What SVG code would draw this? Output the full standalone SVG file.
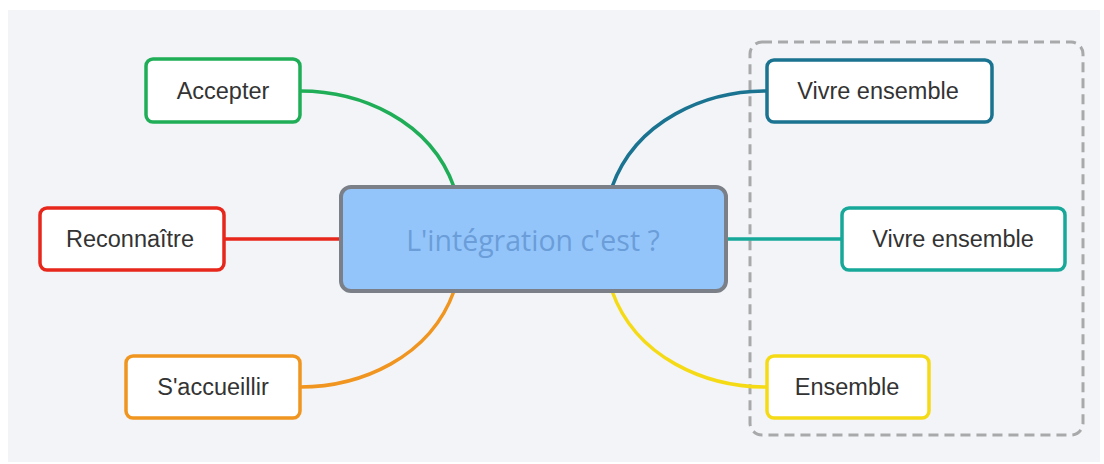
<svg xmlns="http://www.w3.org/2000/svg" width="1104" height="464" viewBox="0 0 1104 464">
<style>
.bg{fill:#f3f4f7}
.node rect{fill:#ffffff;stroke-width:3.5}
.node text{font-family:"Liberation Sans",Arial,sans-serif;font-size:23.5px;fill:#333333;text-anchor:middle;dominant-baseline:central}
.conn path,.conn line{fill:none;stroke-width:3.5;stroke-linecap:round}
.group{fill:none;stroke:#a8a9ab;stroke-width:3;stroke-dasharray:10 6}
</style>
<rect class="bg" x="8" y="10" width="1092" height="452"/>
<rect class="group" x="750" y="42" width="333" height="393" rx="12"/>
<g class="conn" id="connectors">
<path d="M300,91 C360,91 430,120 454,187" stroke="#1fae57"/>
<line x1="224" y1="239" x2="341" y2="239" stroke="#e8271c"/>
<path d="M300,387 C360,387 430,358 454,291" stroke="#f0951f"/>
<path d="M766,91 C706,91 636,120 612,187" stroke="#1a7390"/>
<line x1="726" y1="239" x2="841" y2="239" stroke="#17a89a"/>
<path d="M766,387 C706,387 636,358 612,291" stroke="#f5da16"/>
</g>
<g id="central">
<rect x="341" y="187" width="385" height="104" rx="10" fill="#93c5fb" stroke="#7b8088" stroke-width="4"/>
<text x="533" y="240" font-family="'Open Sans',sans-serif" font-size="28.5" fill="#6b9dd8" text-anchor="middle" dominant-baseline="central">L'intégration c'est ?</text>
</g>
<g class="node" id="accepter">
<rect x="146" y="59" width="154" height="63" rx="7" stroke="#1fae57"/>
<text x="223" y="91">Accepter</text>
</g>
<g class="node" id="reconnaitre">
<rect x="40" y="208" width="184" height="62" rx="7" stroke="#e8271c"/>
<text x="130" y="239">Reconnaître</text>
</g>
<g class="node" id="saccueillir">
<rect x="126" y="356" width="174" height="62" rx="7" stroke="#f0951f"/>
<text x="213" y="387">S'accueillir</text>
</g>
<g class="node" id="vivre1">
<rect x="767" y="60" width="225" height="62" rx="7" stroke="#1a7390"/>
<text x="878" y="91">Vivre ensemble</text>
</g>
<g class="node" id="vivre2">
<rect x="842" y="208" width="223" height="62" rx="7" stroke="#17a89a"/>
<text x="953" y="239">Vivre ensemble</text>
</g>
<g class="node" id="ensemble">
<rect x="767" y="356" width="162" height="62" rx="7" stroke="#f5da16"/>
<text x="847" y="387">Ensemble</text>
</g>
</svg>
